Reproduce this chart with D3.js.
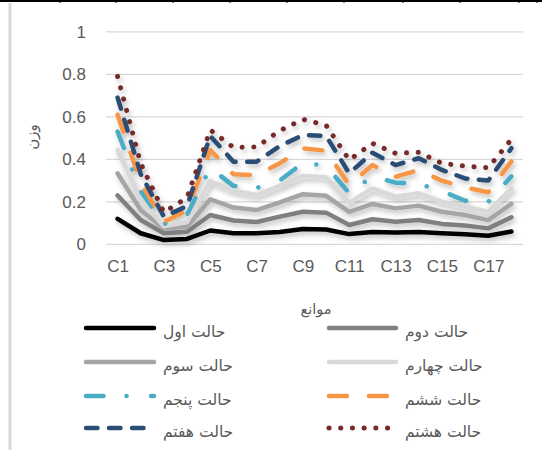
<!DOCTYPE html>
<html><head><meta charset="utf-8">
<script src="https://cdn.jsdelivr.net/npm/d3@7"></script>
<style>html,body{margin:0;padding:0;background:#fff;}svg{display:block;}</style>
</head><body>
<svg id="chart" width="542" height="450"></svg>
<script>
const categories = ["C1","C2","C3","C4","C5","C6","C7","C8","C9","C10","C11","C12","C13","C14","C15","C16","C17","C18"];
const yTicks = [0, 0.2, 0.4, 0.6, 0.8, 1];
const yTickLabels = ["0","0.2","0.4","0.6","0.8","1"];
const xTickLabels = ["C1","C3","C5","C7","C9","C11","C13","C15","C17"];
const seriesNames = ["حالت اول","حالت دوم","حالت سوم","حالت چهارم","حالت پنجم","حالت ششم","حالت هفتم","حالت هشتم"];
const s1 = [0.12,0.052,0.02,0.025,0.065,0.052,0.052,0.058,0.072,0.07,0.048,0.058,0.055,0.058,0.052,0.047,0.04,0.06];
const s2 = [0.23,0.114,0.052,0.059,0.138,0.112,0.105,0.13,0.153,0.149,0.091,0.118,0.106,0.114,0.096,0.088,0.075,0.127];
const s3 = [0.334,0.16,0.075,0.083,0.212,0.173,0.161,0.197,0.236,0.228,0.153,0.19,0.169,0.182,0.153,0.138,0.114,0.19];
const s4 = [0.444,0.21,0.085,0.105,0.298,0.252,0.232,0.275,0.322,0.315,0.196,0.263,0.224,0.24,0.2,0.177,0.153,0.263];
const s5 = [0.53,0.25,0.095,0.14,0.36,0.275,0.265,0.30,0.383,0.37,0.24,0.32,0.29,0.285,0.25,0.205,0.2,0.32];
const s6 = [0.61,0.29,0.105,0.16,0.444,0.33,0.325,0.381,0.452,0.44,0.279,0.373,0.318,0.35,0.299,0.268,0.245,0.39];
const s7 = [0.69,0.33,0.13,0.18,0.51,0.389,0.389,0.462,0.514,0.51,0.334,0.431,0.373,0.405,0.35,0.31,0.3,0.452];
const s8 = [0.79,0.38,0.15,0.22,0.538,0.456,0.458,0.535,0.588,0.56,0.397,0.475,0.428,0.433,0.381,0.368,0.36,0.494];
const seriesValues = [s1,s2,s3,s4,s5,s6,s7,s8];
const xAxisTitle = "موانع";
const yAxisTitle = "وزن";

const colors = ["#000000","#7f7f7f","#a5a5a5","#d9d9d9","#4bacc6","#f79646","#2c4d75","#772c2a"];
const dashes = [null,null,null,null,"17.5,23,0.1,24.5","18,22","11.5,11.5","0.1,11.6"];
const widths = [4.5,4.5,4.5,4.5,4.5,4.5,4.5,5];

const svg = d3.select("#chart");
const L = 106, R = 523, T = 31.8, B = 244.3;
const x = d3.scalePoint().domain(categories).range([L, R]).padding(0.5);
const y = d3.scaleLinear().domain([0, 1]).range([B, T]);

// page border artefacts
svg.append("line").attr("x1",0).attr("x2",542).attr("y1",1).attr("y2",1).attr("stroke","#000").attr("stroke-width",2);
[60,116,173,230,287,344,403,460,519,537].forEach(t=>{
  svg.append("line").attr("x1",t).attr("x2",t).attr("y1",0).attr("y2",3).attr("stroke","#000").attr("stroke-width",1);
});
svg.append("line").attr("x1",10).attr("x2",10).attr("y1",3).attr("y2",450).attr("stroke","#d9d9d9").attr("stroke-width",3);

const defs = svg.append("defs");
const f = defs.append("filter").attr("id","sh").attr("x","-10%").attr("y","-10%").attr("width","130%").attr("height","130%");
f.append("feDropShadow").attr("dx",2).attr("dy",3).attr("stdDeviation",2.5).attr("flood-color","#000").attr("flood-opacity",0.25);

// gridlines
svg.append("g").selectAll("line").data(yTicks).join("line")
  .attr("x1",L).attr("x2",R).attr("y1",d=>y(d)).attr("y2",d=>y(d))
  .attr("stroke","#d9d9d9").attr("stroke-width",1.3);

// y tick labels
svg.append("g").selectAll("text").data(yTicks).join("text")
  .attr("x",86).attr("y",d=>y(d)).attr("dy","0.35em").attr("text-anchor","end")
  .attr("font-family","Liberation Sans, Arial, sans-serif").attr("font-size",17).attr("fill","#595959")
  .text((d,i)=>yTickLabels[i]);

// x axis labels
const xAxis = d3.axisBottom(x).tickValues(xTickLabels).tickSize(0).tickPadding(0);
const gx = svg.append("g").attr("transform",`translate(0,${B+22})`).call(xAxis);
gx.select(".domain").remove();
gx.selectAll("text").attr("font-family","Liberation Sans, Arial, sans-serif").attr("font-size",17).attr("fill","#595959").attr("dy","0.35em");

// lines
const line = d3.line().x((d,i)=>x(categories[i])).y(d=>y(d));
const gl = svg.append("g").attr("filter","url(#sh)");
seriesValues.forEach((vals,k)=>{
  gl.append("path").datum(vals).attr("d",line).attr("fill","none")
    .attr("stroke",colors[k]).attr("stroke-width",widths[k])
    .attr("stroke-linecap","round").attr("stroke-linejoin","round")
    .attr("stroke-dasharray",dashes[k]);
});

// axis titles
svg.append("text").attr("x",316).attr("y",310).attr("text-anchor","middle").attr("dominant-baseline","middle")
  .attr("font-family","DejaVu Sans, sans-serif").attr("font-size",14.5).attr("fill","#595959").text(xAxisTitle);
svg.append("text").attr("transform","translate(32,137) rotate(-90)").attr("text-anchor","middle").attr("dominant-baseline","middle")
  .attr("font-family","DejaVu Sans, sans-serif").attr("font-size",15).attr("letter-spacing",3).attr("fill","#595959").text(yAxisTitle);

// legend
const rowsY = [328, 362, 396, 428];
const leg = svg.append("g");
seriesNames.forEach((name,k)=>{
  const col = k % 2, row = Math.floor(k/2);
  const x0 = col === 0 ? 84 : 327, x1 = col === 0 ? 156 : 398, tx = col === 0 ? 163 : 405;
  const yy = rowsY[row];
  leg.append("line").attr("x1",x0+2).attr("x2",x1-2).attr("y1",yy).attr("y2",yy)
    .attr("stroke",colors[k]).attr("stroke-width",widths[k]).attr("stroke-linecap","round")
    .attr("stroke-dasharray",dashes[k]);
  leg.append("text").attr("x",tx).attr("y",yy+4).attr("dominant-baseline","middle").attr("text-anchor","start")
    .attr("font-family","DejaVu Sans, sans-serif").attr("font-size",15.5).attr("fill","#595959").text(name);
});
</script>
</body></html>
